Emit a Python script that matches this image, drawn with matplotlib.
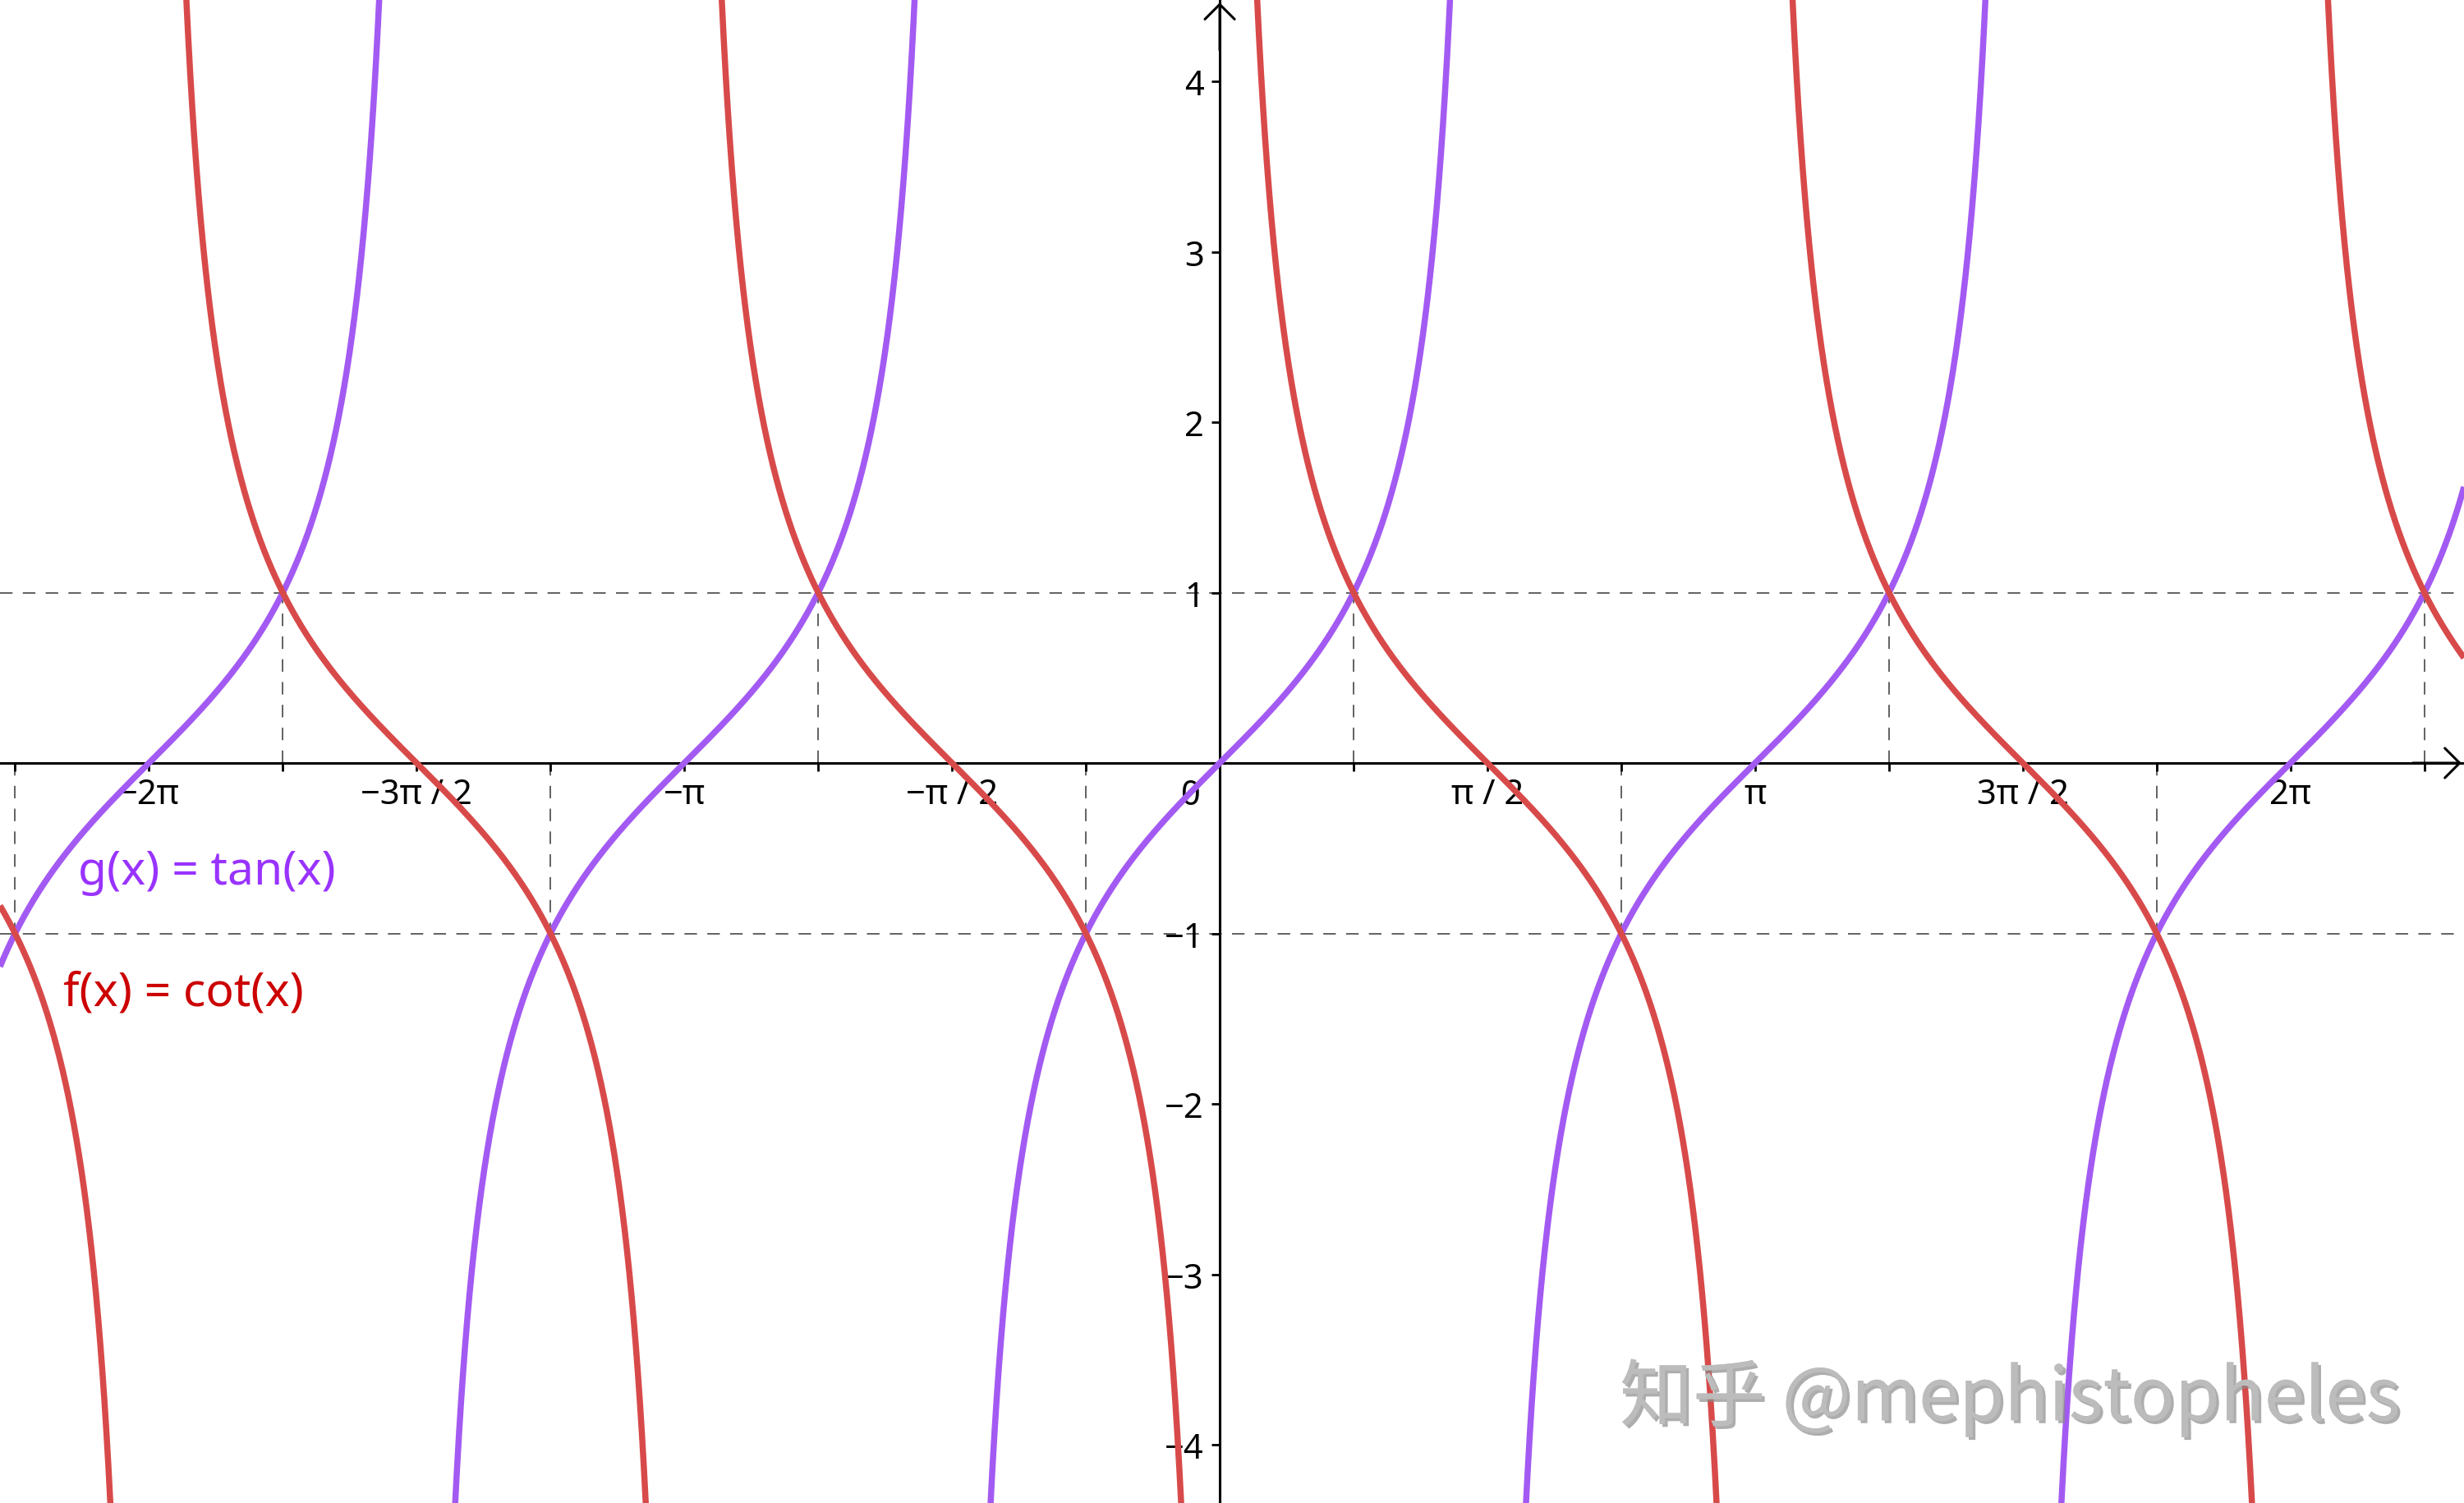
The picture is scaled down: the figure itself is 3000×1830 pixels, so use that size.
import numpy as np
import matplotlib
matplotlib.use("Agg")
import matplotlib.pyplot as plt
from matplotlib import patheffects

plt.rcParams["font.family"] = ["Noto Sans", "DejaVu Sans"]
plt.rcParams["lines.scale_dashes"] = False

# view window (data units)
x_min, x_max = -7.157, 7.301
y_min, y_max = -4.342, 4.482

# x ticks every pi/4, labels only at multiples of pi/2
xtick_k = np.arange(-9, 10)
xlabel_k = [-8, -6, -4, -2, 2, 4, 6, 8]
xlabel_text = ["−2π", "−3π / 2", "−π", "−π / 2", "π / 2", "π", "3π / 2", "2π"]
ytick_vals = [-4, -3, -2, -1, 1, 2, 3, 4]
ytick_text = ["−4", "−3", "−2", "−1", "1", "2", "3", "4"]

# intersections of tan and cot (in multiples of pi/4)
cross_up_k = [-7, -3, 1, 5, 9]      # tan = cot = 1
cross_down_k = [-9, -5, -1, 3, 7]   # tan = cot = -1

tan_color = "#a35af2"
cot_color = "#d84a4a"
tan_label_color = "#9933ff"
cot_label_color = "#cc0000"

x = np.linspace(x_min, x_max, 40000)
tan_y = np.tan(x)
cot_y = 1.0 / np.tan(x)
tan_y[np.abs(tan_y) > 8] = np.nan
cot_y[np.abs(cot_y) > 8] = np.nan

fig = plt.figure(figsize=(30, 18.31), dpi=100)
ax = fig.add_axes([0, 0, 1, 1])
ax.set_xlim(x_min, x_max)
ax.set_ylim(y_min, y_max)

for s in ["top", "right"]:
    ax.spines[s].set_visible(False)
for s in ["left", "bottom"]:
    ax.spines[s].set_position(("data", 0))
    ax.spines[s].set_linewidth(2.2)
    ax.spines[s].set_zorder(1.5)

q = np.pi / 4
ax.set_xticks(xtick_k * q)
labels = []
for k in xtick_k:
    labels.append(xlabel_text[xlabel_k.index(k)] if k in xlabel_k else "")
ax.set_xticklabels(labels)
ax.set_yticks(ytick_vals)
ax.set_yticklabels(ytick_text)
ax.tick_params(axis="x", direction="out", length=7, width=2, labelsize=30, pad=5)
ax.tick_params(axis="y", direction="out", length=7, width=2, labelsize=30, pad=7)
ax.text(-0.11, -0.19, "0", fontsize=30, ha="right", va="center")

# arrows on axis ends
ax.annotate("", xy=(x_max - 0.015, 0), xytext=(x_max - 0.3, 0),
            arrowprops=dict(arrowstyle="->,head_length=0.5,head_width=0.5",
                            lw=2.2, color="black", mutation_scale=26,
                            shrinkA=0, shrinkB=0))
ax.annotate("", xy=(0, y_max - 0.02), xytext=(0, y_max - 0.3),
            arrowprops=dict(arrowstyle="->,head_length=0.5,head_width=0.5",
                            lw=2.2, color="black", mutation_scale=26,
                            shrinkA=0, shrinkB=0))

# dashed guide lines
dash = (0, (11, 9))
for yv in [1, -1]:
    ax.axhline(yv, color="#555555", lw=1.3, ls=dash, zorder=1)
for k in cross_up_k:
    ax.plot([k * q, k * q], [0, 1], color="#555555", lw=1.3, ls=dash, zorder=1)
for k in cross_down_k:
    ax.plot([k * q, k * q], [0, -1], color="#555555", lw=1.3, ls=dash, zorder=1)

ax.plot(x, tan_y, color=tan_color, lw=5.4, zorder=3, solid_capstyle="butt")
ax.plot(x, cot_y, color=cot_color, lw=5.4, zorder=3, solid_capstyle="butt")

ax.text(-6.70, -0.71, "g(x) = tan(x)", color=tan_label_color, fontsize=41, va="baseline")
ax.text(-6.785, -1.42, "f(x) = cot(x)", color=cot_label_color, fontsize=41, va="baseline")

fig.text(0.974, 0.055, "知乎 @mephistopheles", fontsize=64, color="#bcbcbc",
         ha="right", va="baseline", zorder=10,
         family=["Noto Sans CJK SC", "DejaVu Sans"],
         path_effects=[patheffects.withSimplePatchShadow(offset=(2.5, -2.5),
                                                          shadow_rgbFace="#8a8a8a",
                                                          alpha=0.7),
                       patheffects.Normal()])

fig.savefig("out.png", dpi=100)
